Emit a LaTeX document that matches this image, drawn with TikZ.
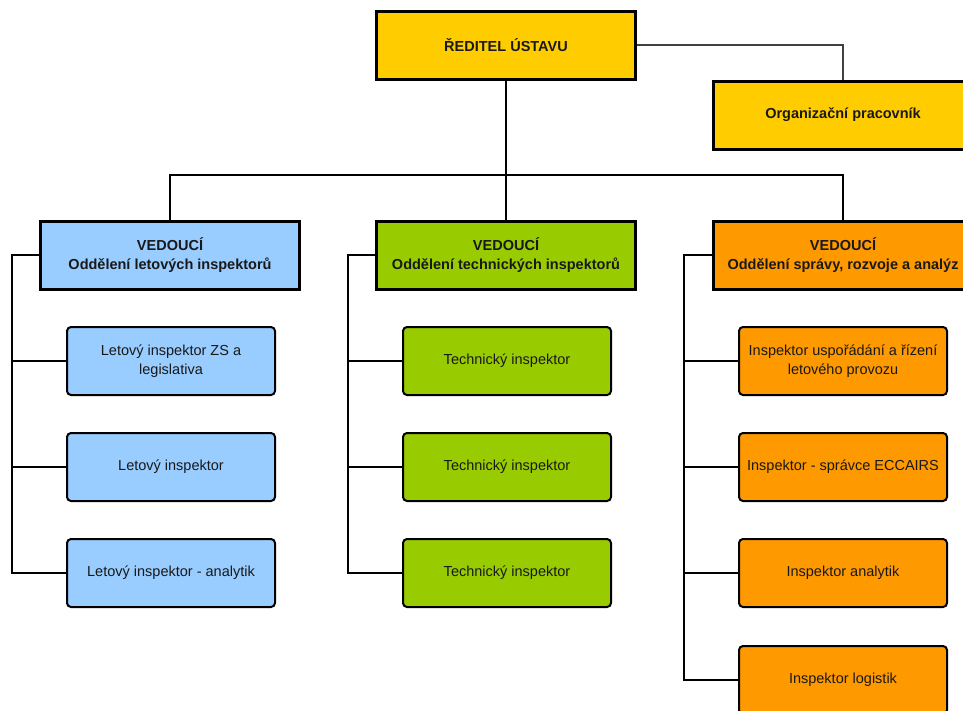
\documentclass[tikz,border=0pt]{standalone}
\usepackage{fontspec}
\setmainfont{Liberation Sans}
\begin{document}
\begin{tikzpicture}[x=1pt,y=-1pt,
  head/.style={draw=black,line width=3pt,minimum width=259pt,minimum height=68pt,
    inner sep=2pt,align=center,text=black!90,font=\fontsize{14.5}{18.5}\selectfont\bfseries},
  staff/.style={draw=black,line width=2pt,rounded corners=4pt,minimum width=208pt,
    minimum height=68pt,inner sep=2pt,align=center,text=black!90,font=\fontsize{14.5}{18.5}\selectfont},
  link/.style={draw=black,line width=2.8pt},
  thin link/.style={draw=black!75,line width=2.2pt}]
\useasboundingbox (0,0) rectangle (963,710);
\clip (0,0) rectangle (963,710);
\definecolor{dirY}{HTML}{FFCC00}
\definecolor{deptB}{HTML}{99CCFF}
\definecolor{deptG}{HTML}{99CC00}
\definecolor{deptO}{HTML}{FF9900}

% top level
\node[head,fill=dirY] (dir) at (506,45) {ŘEDITEL ÚSTAVU};
\node[head,fill=dirY] (org) at (843,115) {Organizační pracovník};

% departments
\node[head,fill=deptB] (dA) at (170,255) {VEDOUCÍ\\Oddělení letových inspektorů};
\node[head,fill=deptG] (dB) at (506,255) {VEDOUCÍ\\Oddělení technických inspektorů};
\node[head,fill=deptO] (dC) at (843,255) {VEDOUCÍ\\Oddělení správy, rozvoje a analýz};

% staff of the flight inspection department
\node[staff,fill=deptB] (a1) at (171,361) {Letový inspektor ZS a\\legislativa};
\node[staff,fill=deptB] (a2) at (171,467) {Letový inspektor};
\node[staff,fill=deptB] (a3) at (171,573) {Letový inspektor - analytik};

% staff of the technical inspection department
\node[staff,fill=deptG] (b1) at (507,361) {Technický inspektor};
\node[staff,fill=deptG] (b2) at (507,467) {Technický inspektor};
\node[staff,fill=deptG] (b3) at (507,573) {Technický inspektor};

% staff of the administration department
\node[staff,fill=deptO] (c1) at (843,361) {Inspektor uspořádání a řízení\\letového provozu};
\node[staff,fill=deptO] (c2) at (843,467) {Inspektor - správce ECCAIRS};
\node[staff,fill=deptO] (c3) at (843,573) {Inspektor analytik};
\node[staff,fill=deptO] (c4) at (843,680) {Inspektor logistik};

% trunk lines
\coordinate (bus) at (506,175);
\draw[thin link] (dir.east) -| (org.north);
\draw[link] (dir.south) -- (bus);
\draw[link] (dA.north) |- (bus) -| (dC.north);
\draw[link] (bus) -- (dB.north);

% spines with branches
\coordinate (sA) at (12,0);
\coordinate (sB) at (348,0);
\coordinate (sC) at (684,0);
\draw[link] (dA.west) -| (sA |- a3.west) -- (a3.west);
\draw[link] (sA |- a1.west) -- (a1.west);
\draw[link] (sA |- a2.west) -- (a2.west);
\draw[link] (dB.west) -| (sB |- b3.west) -- (b3.west);
\draw[link] (sB |- b1.west) -- (b1.west);
\draw[link] (sB |- b2.west) -- (b2.west);
\draw[link] (dC.west) -| (sC |- c4.west) -- (c4.west);
\draw[link] (sC |- c1.west) -- (c1.west);
\draw[link] (sC |- c2.west) -- (c2.west);
\draw[link] (sC |- c3.west) -- (c3.west);
\end{tikzpicture}
\end{document}
